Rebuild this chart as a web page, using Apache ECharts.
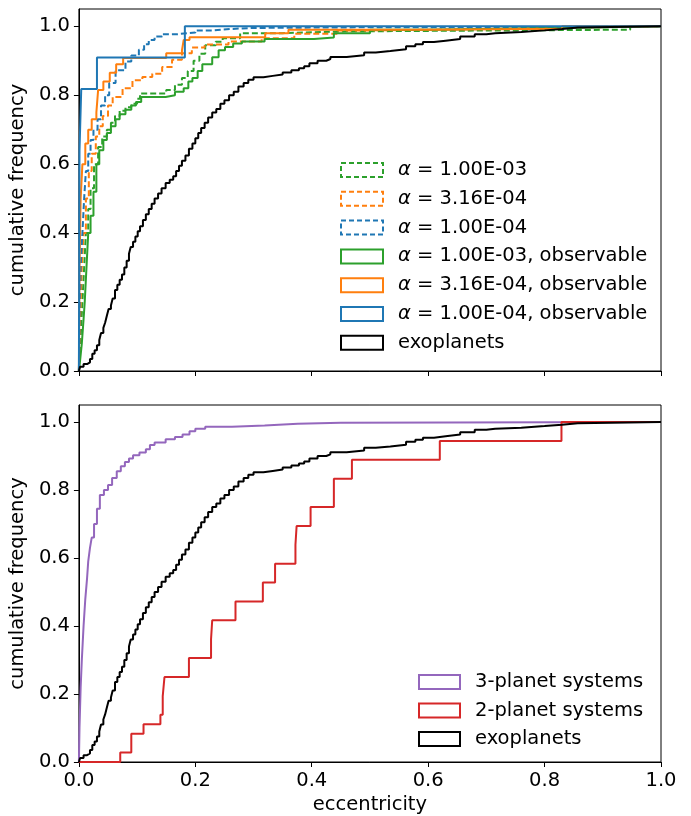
<!DOCTYPE html>
<html>
<head>
<meta charset="utf-8">
<script src="https://cdn.jsdelivr.net/npm/echarts@6/dist/echarts.min.js"></script>
<style>
  html, body { margin: 0; padding: 0; background: #fff; }
  #main { width: 691px; height: 816px; }
</style>
</head>
<body>
<div id="main"></div>
<script>
// cumulative distributions, [eccentricity, cumulative frequency]
const exoplanets = [[0,0],[0.002,0.012],[0.008,0.02],[0.014,0.025],[0.019,0.035],[0.023,0.05],[0.027,0.06],[0.031,0.075],[0.035,0.09],[0.038,0.11],[0.042,0.125],[0.045,0.14],[0.048,0.16],[0.051,0.18],[0.055,0.19],[0.058,0.21],[0.062,0.235],[0.066,0.25],[0.07,0.265],[0.074,0.28],[0.078,0.3],[0.082,0.32],[0.086,0.34],[0.089,0.36],[0.093,0.375],[0.097,0.39],[0.101,0.405],[0.105,0.42],[0.11,0.438],[0.115,0.455],[0.12,0.47],[0.125,0.485],[0.13,0.5],[0.136,0.515],[0.142,0.53],[0.149,0.545],[0.156,0.555],[0.162,0.565],[0.167,0.58],[0.172,0.595],[0.177,0.61],[0.183,0.625],[0.189,0.645],[0.195,0.66],[0.2,0.675],[0.205,0.69],[0.21,0.705],[0.216,0.72],[0.222,0.735],[0.229,0.75],[0.236,0.76],[0.243,0.775],[0.25,0.785],[0.258,0.8],[0.266,0.81],[0.274,0.825],[0.283,0.835],[0.291,0.845],[0.3,0.852],[0.317,0.856],[0.333,0.86],[0.35,0.866],[0.365,0.872],[0.378,0.878],[0.387,0.884],[0.396,0.893],[0.41,0.9],[0.425,0.905],[0.432,0.911],[0.46,0.916],[0.49,0.924],[0.51,0.928],[0.535,0.933],[0.562,0.942],[0.578,0.948],[0.591,0.954],[0.61,0.958],[0.63,0.963],[0.655,0.97],[0.68,0.977],[0.7,0.98],[0.715,0.983],[0.76,0.988],[0.8,0.992],[0.83,0.996],[0.857,1.0],[1.0,1.0]];

const alpha1e3 = [[0,0],[0.001,0.05],[0.003,0.1],[0.006,0.2],[0.009,0.3],[0.012,0.4],[0.016,0.47],[0.02,0.53],[0.026,0.6],[0.033,0.65],[0.04,0.68],[0.048,0.7],[0.055,0.72],[0.062,0.74],[0.07,0.755],[0.08,0.765],[0.09,0.775],[0.1,0.79],[0.105,0.805],[0.15,0.815],[0.165,0.83],[0.177,0.85],[0.187,0.87],[0.197,0.9],[0.207,0.92],[0.217,0.945],[0.235,0.955],[0.247,0.965],[0.277,0.98],[0.35,0.985],[0.45,0.99],[0.947,1.0],[1,1]];
const alpha316e4 = [[0,0],[0.001,0.1],[0.003,0.2],[0.005,0.3],[0.008,0.4],[0.012,0.5],[0.017,0.58],[0.022,0.63],[0.029,0.68],[0.035,0.71],[0.041,0.74],[0.05,0.77],[0.058,0.795],[0.075,0.82],[0.092,0.843],[0.109,0.853],[0.126,0.862],[0.143,0.882],[0.16,0.903],[0.177,0.922],[0.194,0.938],[0.216,0.947],[0.257,0.956],[0.314,0.965],[0.37,0.978],[0.444,0.988],[0.5,0.99],[0.61,0.995],[0.8,1.0],[1,1]];
const alpha1e4 = [[0,0],[0.001,0.15],[0.003,0.3],[0.006,0.4],[0.009,0.5],[0.012,0.58],[0.016,0.63],[0.02,0.67],[0.025,0.7],[0.032,0.73],[0.038,0.77],[0.045,0.8],[0.052,0.835],[0.063,0.872],[0.08,0.898],[0.09,0.915],[0.103,0.932],[0.112,0.948],[0.12,0.96],[0.13,0.97],[0.143,0.977],[0.17,0.982],[0.2,0.988],[0.23,0.992],[0.26,0.995],[0.3,0.997],[0.5,0.998],[0.83,1.0],[1,1]];

const alpha1e3Obs = [[0,0],[0.002,0.03],[0.005,0.08],[0.008,0.15],[0.01,0.2],[0.013,0.3],[0.016,0.4],[0.02,0.45],[0.025,0.52],[0.03,0.6],[0.035,0.64],[0.042,0.67],[0.048,0.69],[0.055,0.71],[0.063,0.73],[0.07,0.745],[0.08,0.758],[0.09,0.77],[0.098,0.78],[0.107,0.795],[0.149,0.8],[0.165,0.81],[0.18,0.82],[0.188,0.84],[0.195,0.85],[0.204,0.87],[0.212,0.89],[0.229,0.91],[0.24,0.93],[0.251,0.94],[0.265,0.95],[0.28,0.956],[0.319,0.963],[0.404,0.967],[0.438,0.98],[0.5,0.99],[0.6,0.995],[0.83,1],[1,1]];
const alpha316e4Obs = [[0,0],[0.001,0.3],[0.003,0.5],[0.006,0.6],[0.011,0.66],[0.016,0.7],[0.022,0.73],[0.03,0.75],[0.033,0.815],[0.042,0.84],[0.053,0.865],[0.064,0.89],[0.076,0.908],[0.15,0.922],[0.177,0.93],[0.18,0.96],[0.19,0.968],[0.32,0.98],[0.36,0.99],[0.6,0.993],[0.83,1.0],[1,1]];
const alpha1e4Obs = [[0,0],[0.001,0.64],[0.004,0.818],[0.031,0.909],[0.182,1.0],[1,1]];

const threePlanet = [[0,0],[0.001,0.1],[0.002,0.16],[0.003,0.22],[0.005,0.3],[0.0065,0.35],[0.008,0.4],[0.011,0.48],[0.014,0.54],[0.016,0.59],[0.019,0.63],[0.022,0.66],[0.026,0.7],[0.031,0.745],[0.036,0.785],[0.043,0.8],[0.05,0.815],[0.057,0.835],[0.065,0.855],[0.072,0.87],[0.079,0.882],[0.086,0.893],[0.093,0.902],[0.104,0.91],[0.115,0.92],[0.122,0.932],[0.13,0.94],[0.149,0.949],[0.165,0.956],[0.178,0.963],[0.19,0.973],[0.2,0.98],[0.217,0.986],[0.263,0.99],[0.319,0.995],[0.376,0.998],[0.45,1.0],[1,1]];
const twoPlanet = [[0,0],[0.071,0.028],[0.09,0.083],[0.111,0.111],[0.14,0.139],[0.144,0.194],[0.147,0.25],[0.189,0.306],[0.227,0.361],[0.229,0.417],[0.269,0.472],[0.316,0.528],[0.337,0.583],[0.372,0.639],[0.374,0.694],[0.398,0.75],[0.438,0.833],[0.469,0.889],[0.62,0.944],[0.829,1.0],[1,1]];

const tickValues = [0, 0.2, 0.4, 0.6, 0.8, 1.0];

const FONT = 'DejaVu Sans';
const FS = 19.5;
const C = { blue: '#1f77b4', orange: '#ff7f0e', green: '#2ca02c', red: '#d62728', purple: '#9467bd', black: '#000000' };

const chart = echarts.init(document.getElementById('main'), null, { renderer: 'canvas' });

function xAxis(gridIndex, labels) {
    return {
        type: 'value', gridIndex, min: 0, max: 1, interval: 0.2,
        name: labels ? 'eccentricity' : '', nameLocation: 'middle', nameGap: 33,
        nameTextStyle: { fontFamily: FONT, fontSize: FS, color: '#000' },
        axisLine: { lineStyle: { color: '#000', width: 1 } },
        axisTick: { length: 5, lineStyle: { color: '#000', width: 1 } },
        axisLabel: { show: labels, margin: 9, fontFamily: FONT, fontSize: FS, color: '#000', formatter: v => v.toFixed(1) },
        splitLine: { show: false }
    };
}
function yAxis(gridIndex) {
    return {
        type: 'value', gridIndex, min: 0, max: 1.05,
        name: 'cumulative frequency', nameLocation: 'middle', nameGap: 42,
        nameTextStyle: { fontFamily: FONT, fontSize: FS, color: '#000' },
        axisLine: { onZero: false, lineStyle: { color: '#000', width: 1 } },
        axisTick: { length: 5, customValues: tickValues, lineStyle: { color: '#000', width: 1 } },
        axisLabel: { margin: 9, customValues: tickValues, fontFamily: FONT, fontSize: FS, color: '#000', formatter: v => v.toFixed(1) },
        splitLine: { show: false }
    };
}
function curve(name, data, color, dashed, idx) {
    return {
        name, type: 'line', data, step: 'end', xAxisIndex: idx, yAxisIndex: idx,
        showSymbol: false, symbol: 'none', silent: true,
        lineStyle: { color, width: 2, type: dashed ? [6, 3] : 'solid' },
        itemStyle: { color }
    };
}
function legendItem(name, color, dashed) {
    return { name, icon: 'rect', itemStyle: { color: 'rgba(0,0,0,0)', borderColor: color, borderWidth: 2, borderType: dashed ? [5, 3] : 'solid' } };
}
const legendText = {
    fontFamily: FONT, fontSize: FS, color: '#000', lineHeight: 20, padding: [0, 0, 0, 10],
    rich: { a: { fontFamily: FONT, fontSize: FS, fontStyle: 'italic', color: '#000', lineHeight: 20 } }
};

const names = {
    g: 'α = 1.00E-03', o: 'α = 3.16E-04', b: 'α = 1.00E-04',
    go: 'α = 1.00E-03, observable', oo: 'α = 3.16E-04, observable', bo: 'α = 1.00E-04, observable'
};

const option = {
    animation: false,
    backgroundColor: '#fff',
    grid: [
        { left: 72, top: 9, width: 589, height: 362, show: true, borderColor: '#000', borderWidth: 1, backgroundColor: 'transparent' },
        { left: 72, top: 405, width: 589, height: 363, show: true, borderColor: '#000', borderWidth: 1, backgroundColor: 'transparent' }
    ],
    xAxis: [xAxis(0, false), xAxis(1, true)],
    yAxis: [yAxis(0), yAxis(1)],
    legend: [
        {
            orient: 'vertical', left: 335, top: 155, itemWidth: 42, itemHeight: 14, itemGap: 8.8,
            selectedMode: false, textStyle: legendText,
            formatter: n => n.replace('α', '{a|α}'),
            data: [
                legendItem(names.g, C.green, true), legendItem(names.o, C.orange, true), legendItem(names.b, C.blue, true),
                legendItem(names.go, C.green, false), legendItem(names.oo, C.orange, false), legendItem(names.bo, C.blue, false),
                legendItem('exoplanets', C.black, false)
            ]
        },
        {
            orient: 'vertical', left: 413, top: 667, itemWidth: 41, itemHeight: 14, itemGap: 8.5,
            selectedMode: false, textStyle: legendText,
            data: [
                legendItem('3-planet systems', C.purple, false), legendItem('2-planet systems', C.red, false),
                legendItem('exoplanets', C.black, false)
            ]
        }
    ],
    series: [
        curve(names.g, alpha1e3, C.green, true, 0),
        curve(names.o, alpha316e4, C.orange, true, 0),
        curve(names.b, alpha1e4, C.blue, true, 0),
        curve(names.go, alpha1e3Obs, C.green, false, 0),
        curve(names.oo, alpha316e4Obs, C.orange, false, 0),
        curve(names.bo, alpha1e4Obs, C.blue, false, 0),
        curve('exoplanets', exoplanets, C.black, false, 0),
        curve('3-planet systems', threePlanet, C.purple, false, 1),
        curve('2-planet systems', twoPlanet, C.red, false, 1),
        curve('exoplanets', exoplanets, C.black, false, 1)
    ]
};

chart.setOption(option);
</script>
</body>
</html>
